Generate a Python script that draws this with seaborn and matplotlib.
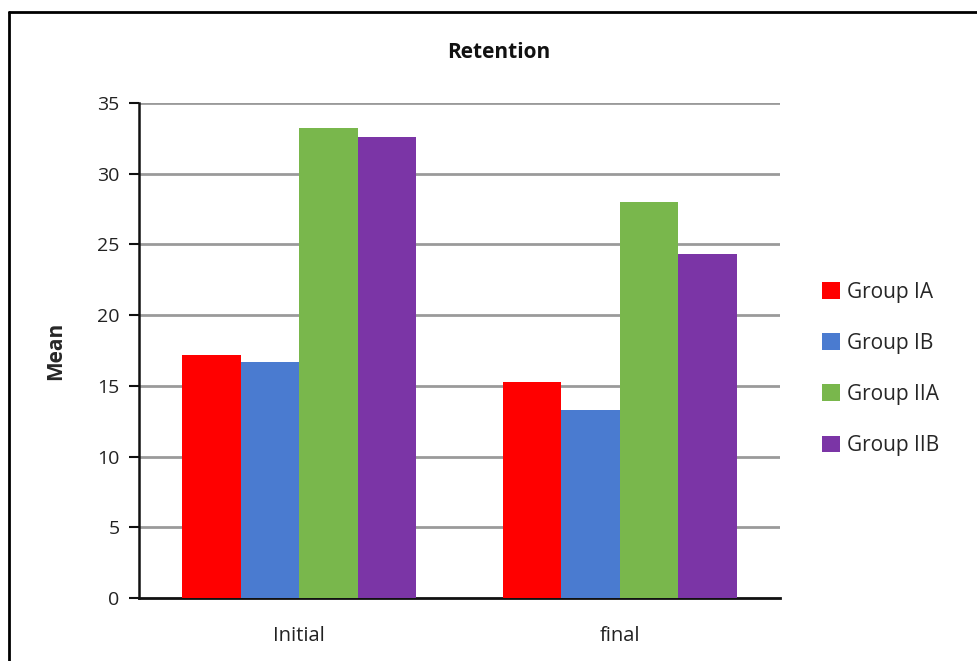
import matplotlib
matplotlib.use("Agg")
import matplotlib.pyplot as plt
import seaborn as sns
import pandas as pd
from matplotlib.lines import Line2D

categories = ["Initial", "final"]
groups = ["Group IA", "Group IB", "Group IIA", "Group IIB"]
group_ia = [17.2, 15.3]
group_ib = [16.7, 13.3]
group_iia = [33.2, 28.0]
group_iib = [32.6, 24.3]
colors = ["#ff0000", "#4a7bd0", "#79b74c", "#7b35a6"]
yticks = [0, 5, 10, 15, 20, 25, 30, 35]

rows = []
for g, vals in zip(groups, [group_ia, group_ib, group_iia, group_iib]):
    for c, v in zip(categories, vals):
        rows.append({"Phase": c, "Group": g, "Mean": v})
df = pd.DataFrame(rows)

sns.set_style("white")
plt.rcParams["font.family"] = ["Open Sans", "DejaVu Sans"]

fig = plt.figure(figsize=(9.77, 6.61), dpi=100)
ax = fig.add_axes([139/977, 63/661, (780-139)/977, (598-103)/661])

sns.barplot(data=df, x="Phase", y="Mean", hue="Group", order=categories,
            hue_order=groups, palette=colors, width=0.73, gap=0,
            saturation=1, ax=ax, errorbar=None, linewidth=0, zorder=3)

ax.set_ylim(0, 35)
ax.set_xlim(-0.5, 1.5)
ax.set_yticks(yticks)
ax.set_yticklabels([str(t) for t in yticks], fontsize=14, color="#222222")
ax.tick_params(axis="x", length=0, labelsize=14.5, colors="#222222", pad=20)
ax.tick_params(axis="y", length=7, width=1.5, color="#111111", pad=7, direction="out", left=True)
for t in yticks[1:]:
    ax.axhline(t, color="#9a9a9a", lw=2, zorder=1)
for s in ["top", "right"]:
    ax.spines[s].set_visible(False)
ax.spines["left"].set_color("#111111")
ax.spines["left"].set_linewidth(1.8)
ax.spines["bottom"].set_color("#111111")
ax.spines["bottom"].set_linewidth(2)
ax.set_xlabel("")
ax.set_ylabel("Mean", fontsize=15, fontweight="bold", labelpad=22)

handles, labels = ax.get_legend_handles_labels()
ax.legend(handles, labels, loc="center left", bbox_to_anchor=(1.036, 0.463),
          frameon=False, fontsize=15, handlelength=0.85, handleheight=0.85,
          handletextpad=0.35, labelspacing=1.45)

fig.text(0.51, 0.921, "Retention", ha="center", va="center", fontsize=15,
         fontweight="bold", color="#111111")

fig.add_artist(Line2D([9/977, 1.0], [1 - 12/661, 1 - 12/661],
                      transform=fig.transFigure, color="black", lw=2))
fig.add_artist(Line2D([9/977, 9/977], [0, 1 - 12/661],
                      transform=fig.transFigure, color="black", lw=2))

fig.savefig("out.png", dpi=100)
